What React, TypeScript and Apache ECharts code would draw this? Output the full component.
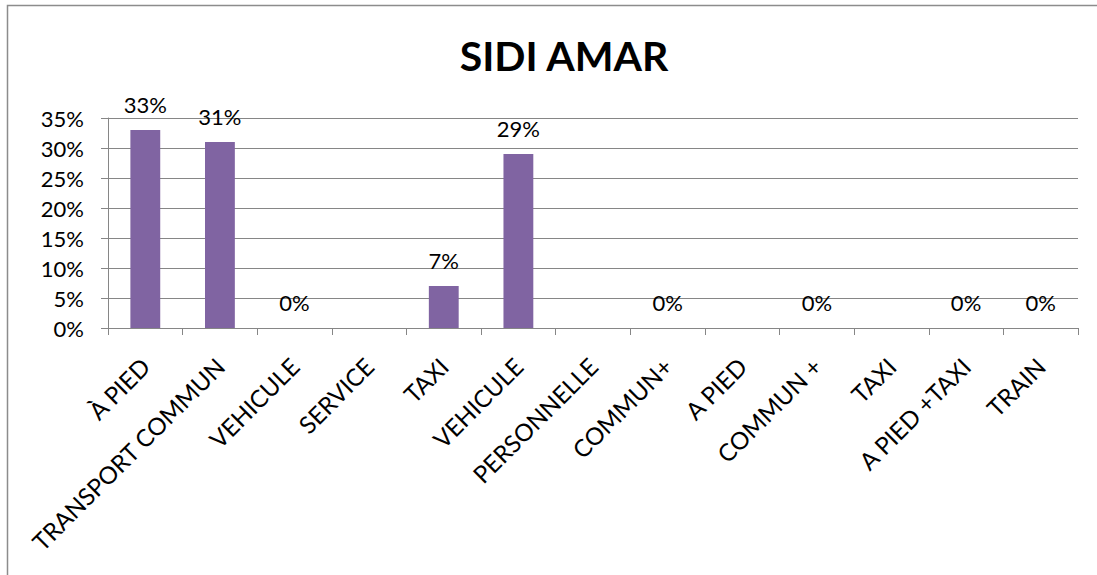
import React, { useEffect, useRef } from "react";
import * as echarts from "echarts";

const TITLE = "SIDI AMAR";
const categories = [
  "À PIED",
  "TRANSPORT COMMUN",
  "VEHICULE",
  "SERVICE",
  "TAXI",
  "VEHICULE",
  "PERSONNELLE",
  "COMMUN+",
  "A PIED",
  "COMMUN +",
  "TAXI",
  "A PIED +TAXI",
  "TRAIN",
];
const values: (number | null)[] = [33, 31, 0, null, 7, 29, null, 0, null, 0, null, 0, 0];
const yMin = 0;
const yMax = 35;
const yStep = 5;

const FONT = "Lato, 'Open Sans', sans-serif";
const GRID_COLOR = "#868686";

export default function App() {
  const ref = useRef<HTMLDivElement>(null);
  useEffect(() => {
    document.body.style.margin = "0";
    if (!ref.current) return;
    const chart = echarts.init(ref.current, undefined, { renderer: "svg" });
    chart.setOption({
      animation: false,
      backgroundColor: "#ffffff",
      title: {
        text: TITLE,
        left: 559,
        top: 30,
        textAlign: "center",
        textStyle: { fontFamily: FONT, fontWeight: "bold", fontSize: 41, color: "#000" },
      },
      graphic: [
        {
          type: "polyline",
          shape: { points: [[7.5, 700], [7.5, 5.5], [1200, 5.5]] },
          style: { fill: "none", stroke: "#8c8c8c", lineWidth: 1.5 },
          silent: true,
        },
      ],
      grid: { left: 108, right: 19, top: 118, bottom: 247, containLabel: false },
      xAxis: {
        type: "category",
        data: categories,
        axisLine: { show: true, lineStyle: { color: GRID_COLOR, width: 1 } },
        axisTick: { show: true, alignWithLabel: false, length: 7, lineStyle: { color: GRID_COLOR } },
        axisLabel: {
          interval: 0,
          rotate: 45,
          margin: 34,
          fontFamily: FONT,
          fontSize: 24,
          color: "#000",
        },
      },
      yAxis: {
        type: "value",
        min: yMin,
        max: yMax,
        interval: yStep,
        axisLine: { show: true, lineStyle: { color: GRID_COLOR, width: 1 } },
        axisTick: { show: true, length: 7, lineStyle: { color: GRID_COLOR } },
        splitLine: { show: true, lineStyle: { color: GRID_COLOR, width: 1 } },
        axisLabel: {
          formatter: "{value}%",
          margin: 24,
          fontFamily: FONT,
          fontSize: 22,
          color: "#000",
        },
      },
      series: [
        {
          type: "bar",
          data: values,
          barWidth: "40%",
          itemStyle: { color: "#8064A2" },
          label: {
            show: true,
            position: "top",
            distance: 15,
            formatter: (p: any) => `${p.value}%`,
            fontFamily: FONT,
            fontSize: 22,
            color: "#000",
          },
        },
      ],
    });
    return () => chart.dispose();
  }, []);
  return <div ref={ref} style={{ width: 1097, height: 575 }} />;
}
